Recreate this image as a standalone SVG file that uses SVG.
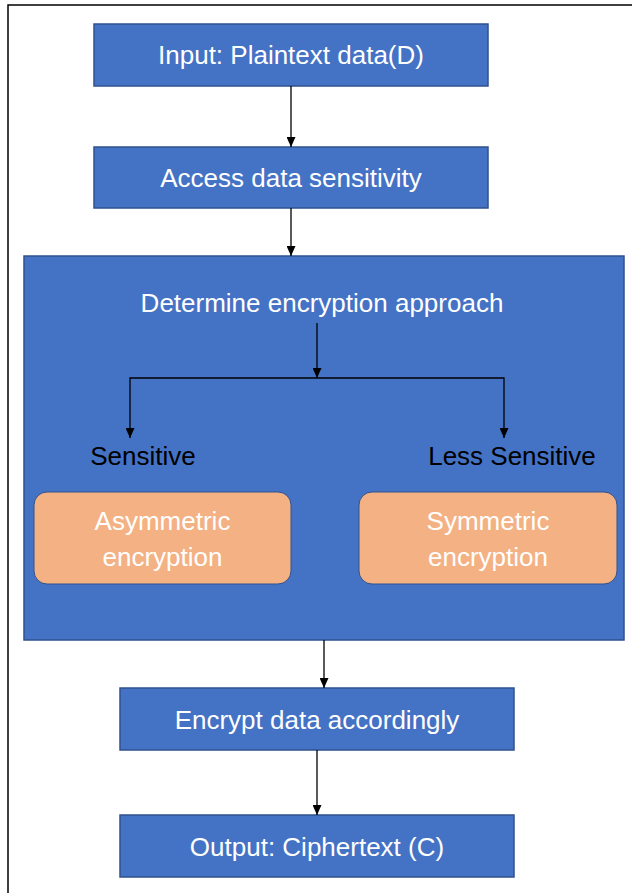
<svg xmlns="http://www.w3.org/2000/svg" width="632" height="893" viewBox="0 0 632 893">
<style>
.box{fill:#4472C4;stroke:#2F528F;stroke-width:1.5}
.sub{fill:#F4B183;stroke:#2F528F;stroke-width:1}
.t{font-family:"Liberation Sans",Arial,sans-serif;font-size:26px;fill:#ffffff;text-anchor:middle}
.lbl{font-family:"Liberation Sans",Arial,sans-serif;font-size:26px;fill:#000000;text-anchor:middle}
.c{fill:none;stroke:#000000;stroke-width:1.3}
</style>
<defs>
<marker id="arr" viewBox="0 0 10 10" refX="10" refY="5" markerWidth="10" markerHeight="9" markerUnits="userSpaceOnUse" orient="auto" preserveAspectRatio="none">
<path d="M0,0 L10,5 L0,10 z" fill="#000000"/>
</marker>
</defs>
<rect width="632" height="893" fill="#ffffff"/>
<path d="M8,893 V5 H632" fill="none" stroke="#000000" stroke-width="1.5"/>
<g id="container">
<rect class="box" x="24" y="256" width="600" height="384"/>
<text class="t" x="322" y="312">Determine encryption approach</text>
</g>
<g id="input">
<rect class="box" x="94" y="24" width="394" height="62"/>
<text class="t" x="291" y="64">Input: Plaintext data(D)</text>
</g>
<g id="access">
<rect class="box" x="94" y="147" width="394" height="61"/>
<text class="t" x="291" y="187">Access data sensitivity</text>
</g>
<g id="sensitive">
<text class="lbl" x="143" y="465">Sensitive</text>
</g>
<g id="less-sensitive">
<text class="lbl" x="512" y="465">Less Sensitive</text>
</g>
<g id="asymmetric">
<rect class="sub" x="34" y="492" width="257" height="92" rx="13"/>
<text class="t" x="162.5" y="530">Asymmetric</text>
<text class="t" x="162.5" y="566">encryption</text>
</g>
<g id="symmetric">
<rect class="sub" x="359" y="492" width="258" height="92" rx="13"/>
<text class="t" x="488" y="530">Symmetric</text>
<text class="t" x="488" y="566">encryption</text>
</g>
<g id="encrypt">
<rect class="box" x="120" y="688" width="394" height="62"/>
<text class="t" x="317" y="729">Encrypt data accordingly</text>
</g>
<g id="output">
<rect class="box" x="120" y="815" width="394" height="62"/>
<text class="t" x="317" y="856">Output: Ciphertext (C)</text>
</g>
<g id="connectors">
<path class="c" d="M291,86 V147" marker-end="url(#arr)"/>
<path class="c" d="M291,208 V256" marker-end="url(#arr)"/>
<path class="c" d="M317,323 V378" marker-end="url(#arr)"/>
<path class="c" d="M317,378 H130 V438" marker-end="url(#arr)"/>
<path class="c" d="M317,378 H504 V438" marker-end="url(#arr)"/>
<path class="c" d="M324,640 V688" marker-end="url(#arr)"/>
<path class="c" d="M317,750 V815" marker-end="url(#arr)"/>
</g>
</svg>
